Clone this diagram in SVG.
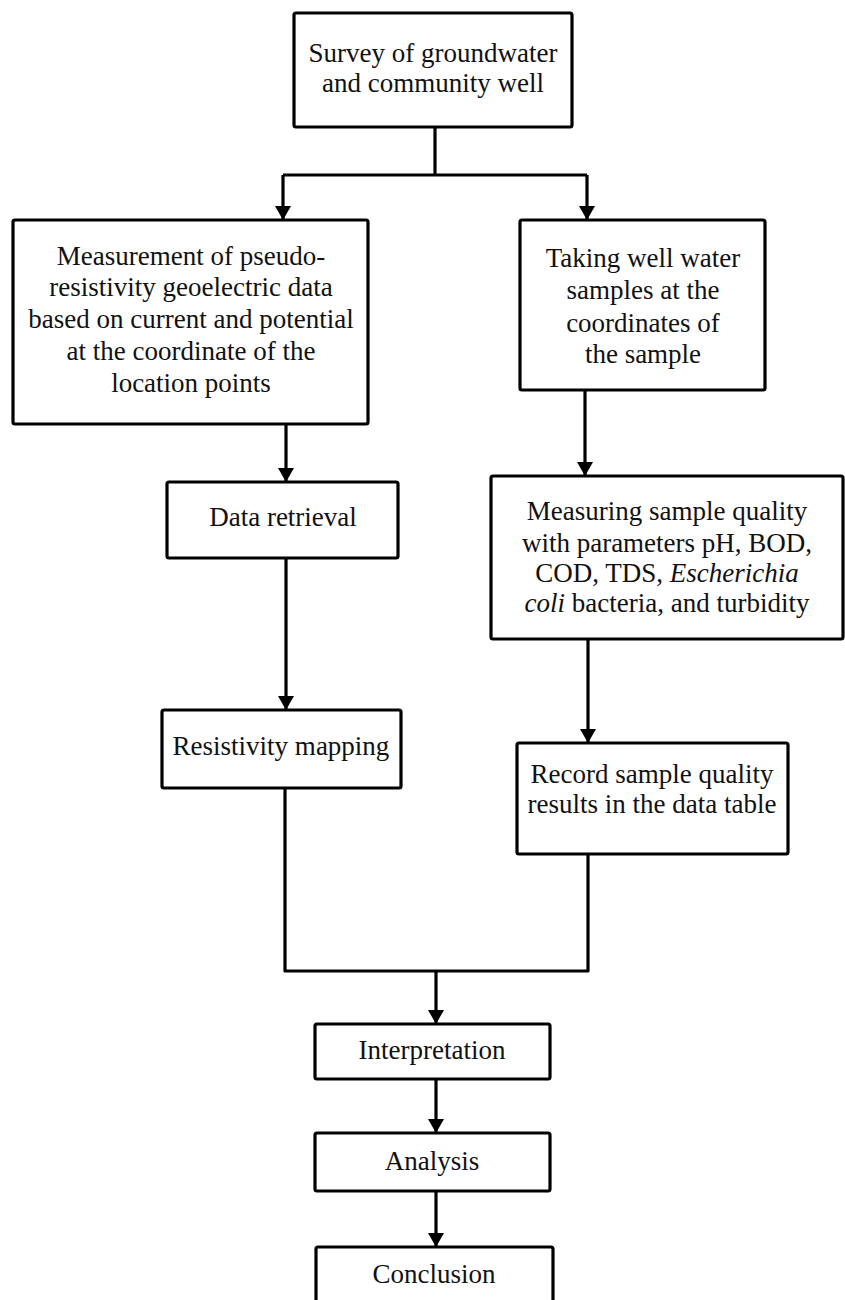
<svg xmlns="http://www.w3.org/2000/svg" width="845" height="1300" viewBox="0 0 845 1300">
<style>
.box{fill:#fff;stroke:#000;stroke-width:3.2;stroke-linejoin:round}
.t{font-family:"Liberation Serif","Times New Roman",serif;font-size:27px;fill:#111;text-anchor:middle}
.c{fill:none;stroke:#000;stroke-width:3.2;stroke-linejoin:round}
</style>
<defs>
<marker id="ah" markerUnits="userSpaceOnUse" markerWidth="16" markerHeight="18" refX="13" refY="8" orient="auto">
<path d="M0,0 L14,8 L0,16 z" fill="#000"/>
</marker>
</defs>
<rect width="845" height="1300" fill="#fff"/>
<g id="connectors">
<path class="c" d="M435,127 V175"/>
<path class="c" d="M283,175 H587"/>
<path class="c" d="M283,175 V219" marker-end="url(#ah)"/>
<path class="c" d="M587,175 V219" marker-end="url(#ah)"/>
<path class="c" d="M286,424 V481" marker-end="url(#ah)"/>
<path class="c" d="M585,390 V475" marker-end="url(#ah)"/>
<path class="c" d="M286,558 V709" marker-end="url(#ah)"/>
<path class="c" d="M588,639 V742" marker-end="url(#ah)"/>
<path class="c" d="M285,788 V971 H588 V854"/>
<path class="c" d="M436,971 V1023" marker-end="url(#ah)"/>
<path class="c" d="M436,1079 V1132" marker-end="url(#ah)"/>
<path class="c" d="M436,1191 V1246" marker-end="url(#ah)"/>
</g>
<g id="survey">
<rect class="box" x="294" y="13" width="278" height="114" rx="2"/>
<text class="t" x="433" y="62">Survey of groundwater</text>
<text class="t" x="433" y="92">and community well</text>
</g>
<g id="measurement">
<rect class="box" x="13" y="220" width="355" height="204" rx="2"/>
<text class="t" x="191" y="265">Measurement of pseudo-</text>
<text class="t" x="191" y="296">resistivity geoelectric data</text>
<text class="t" x="191" y="328">based on current and potential</text>
<text class="t" x="191" y="360">at the coordinate of the</text>
<text class="t" x="191" y="392">location points</text>
</g>
<g id="taking">
<rect class="box" x="520" y="220" width="245" height="170" rx="2"/>
<text class="t" x="643" y="267">Taking well water</text>
<text class="t" x="643" y="299">samples at the</text>
<text class="t" x="643" y="332">coordinates of</text>
<text class="t" x="643" y="363">the sample</text>
</g>
<g id="data-retrieval">
<rect class="box" x="167" y="482" width="231" height="76" rx="2"/>
<text class="t" x="283" y="526">Data retrieval</text>
</g>
<g id="measuring">
<rect class="box" x="491" y="476" width="352" height="163" rx="2"/>
<text class="t" x="667" y="520">Measuring sample quality</text>
<text class="t" x="667" y="552">with parameters pH, BOD,</text>
<text class="t" x="667" y="582">COD, TDS, <tspan font-style="italic">Escherichia</tspan></text>
<text class="t" x="667" y="612"><tspan font-style="italic">coli</tspan> bacteria, and turbidity</text>
</g>
<g id="resistivity">
<rect class="box" x="162" y="710" width="239" height="78" rx="2"/>
<text class="t" x="281" y="755">Resistivity mapping</text>
</g>
<g id="record">
<rect class="box" x="517" y="743" width="271" height="111" rx="2"/>
<text class="t" x="652" y="783">Record sample quality</text>
<text class="t" x="652" y="813">results in the data table</text>
</g>
<g id="interpretation">
<rect class="box" x="315" y="1024" width="235" height="55" rx="2"/>
<text class="t" x="432" y="1059">Interpretation</text>
</g>
<g id="analysis">
<rect class="box" x="315" y="1133" width="235" height="58" rx="2"/>
<text class="t" x="432" y="1170">Analysis</text>
</g>
<g id="conclusion">
<rect class="box" x="316" y="1247" width="237" height="70" rx="2"/>
<text class="t" x="434" y="1283">Conclusion</text>
</g>
</svg>
